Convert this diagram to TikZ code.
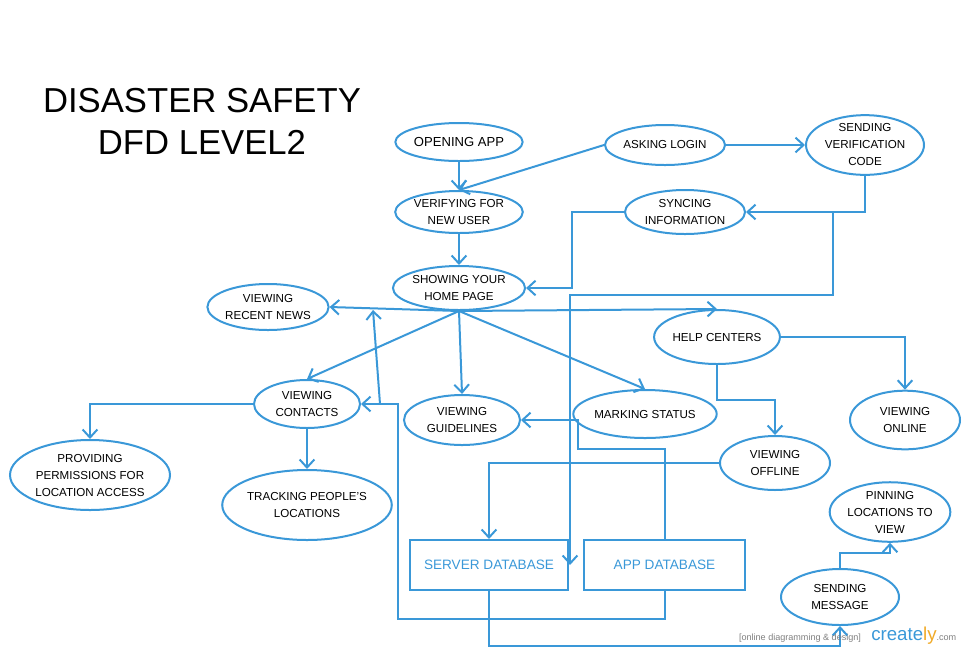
\documentclass[tikz,border=0pt]{standalone}
\usepackage{fontspec}
\setmainfont{Liberation Sans}
\usepackage{xcolor}
\usepackage{tikz}
\usetikzlibrary{shapes.geometric,arrows.meta}
\definecolor{cblue}{RGB}{58,152,216}
\definecolor{corange}{RGB}{240,170,40}
\tikzstyle{arrow} = [cblue, line width=1.5pt, -{Straight Barb[length=6pt,width=11pt]}]
\tikzstyle{proc} = [ellipse, draw=cblue, line width=1.5pt, inner sep=0pt, align=center, font=\fontsize{8.7}{12.75}\selectfont]
\tikzstyle{store} = [rectangle, draw=cblue, line width=1.5pt, text=cblue, inner sep=0pt, font=\fontsize{10.2}{12}\selectfont]

\begin{document}
\begin{tikzpicture}[x=0.75pt, y=-0.75pt, node distance=52.5pt]
		\useasboundingbox (0,0) rectangle (970,654);

		\node (title) [align=center, font=\fontsize{26}{31.5}\selectfont] at (202,121) {DISASTER SAFETY\\DFD LEVEL2};

		\node (open) [proc, minimum width=88.5pt, minimum height=28.5pt, font=\fontsize{9.8}{12}\selectfont] at (459,142) {OPENING APP};
		\node (verify) [proc, below of=open, minimum width=93pt, minimum height=31.5pt] {VERIFYING FOR\\NEW USER};
		\node (home) [proc, below of=verify, yshift=-4.5pt, minimum width=91.5pt, minimum height=33pt] {SHOWING YOUR\\HOME PAGE};
		\node (login) [proc, minimum width=90pt, minimum height=30pt] at (665,145) {ASKING LOGIN};
		\node (sendcode) [proc, minimum width=88.5pt, minimum height=37.5pt] at (865,145) {SENDING\\VERIFICATION\\CODE};
		\node (sync) [proc, minimum width=90pt, minimum height=33pt] at (685,212) {SYNCING\\INFORMATION};
		\node (news) [proc, minimum width=87pt, minimum height=34.5pt] at (268,307) {VIEWING\\RECENT NEWS};
		\node (help) [proc, minimum width=93pt, minimum height=40.5pt] at (717,337) {HELP CENTERS};
		\node (contacts) [proc, minimum width=79.5pt, minimum height=36pt] at (307,404) {VIEWING\\CONTACTS};
		\node (guide) [proc, minimum width=87pt, minimum height=37.5pt] at (462,420) {VIEWING\\GUIDELINES};
		\node (mark) [proc, minimum width=90pt, minimum height=36pt] at (645,414) {MARKING STATUS};
		\node (online) [proc, minimum width=82.5pt, minimum height=44pt] at (905,420) {VIEWING\\ONLINE};
		\node (offline) [proc, minimum width=82.5pt, minimum height=40.5pt] at (775,463) {VIEWING\\OFFLINE};
		\node (perm) [proc, minimum width=120pt, minimum height=52.5pt] at (90,475) {PROVIDING\\PERMISSIONS FOR\\LOCATION ACCESS};
		\node (track) [proc, below of=contacts, yshift=-23.25pt, minimum width=123pt, minimum height=52.5pt] {TRACKING PEOPLE'S\\LOCATIONS};
		\node (server) [store, minimum width=118.5pt, minimum height=37.5pt] at (489,565) {SERVER DATABASE};
		\node (appdb) [store, minimum width=120.75pt, minimum height=37.5pt] at (664.5,565) {APP DATABASE};
		\node (pin) [proc, minimum width=82.5pt, minimum height=42pt] at (890,512) {PINNING\\LOCATIONS TO\\VIEW};
		\node (msg) [proc, minimum width=88.5pt, minimum height=42pt] at (840,597) {SENDING\\MESSAGE};

		\coordinate (split) at (833,212);
		\coordinate (srvin) at (570,565);
		\coordinate (upfoot) at (380,404);
		\coordinate (uptip) at (373,310);

		\draw [arrow] (open) -- (verify);
		\draw [arrow] (login.west) -- (verify.north);
		\draw [arrow] (login) -- (sendcode);
		\draw [arrow] (sendcode.south) |- (sync.east);
		\draw [arrow] (split) -- ++(0,83) -| (srvin);
		\draw [arrow] (sync.west) -- ++(-52,0) |- (home.east);
		\draw [arrow] (verify) -- (home);

		\draw [arrow] (home.south) -- (news.east);
		\draw [arrow] (home.south) -- (help.north);
		\draw [arrow] (home.south) -- (contacts.north);
		\draw [arrow] (home.south) -- (guide.north);
		\draw [arrow] (home.south) -- (mark.north);
		\draw [arrow] (upfoot) -- (uptip);

		\draw [arrow] (contacts.west) -| (perm.north);
		\draw [arrow] (contacts) -- (track);
		\draw [arrow] (help.east) -| (online.north);
		\draw [arrow] (help.south) -- ++(0,35) -| (offline.north);
		\draw [arrow] (offline.west) -| (server.north);
		\draw [arrow] (appdb.north) -- ++(0,-90) -| (578,420) -- (guide.east);
		\draw [arrow] (appdb.south) -- ++(0,28) -| (398,404) -- (contacts.east);
		\draw [arrow] (server.south) -- ++(0,55) -| (msg.south);
		\draw [arrow] (msg.north) -- ++(0,-15) -| (pin.south);

		% watermark
		\node (wmtext) [text=gray, font=\fontsize{6.8}{8}\selectfont] at (800,638) {[online diagramming \& design]};
		\node (wmlogo) [anchor=west, inner sep=0pt, font=\fontsize{14}{16}\selectfont] at (871,636) {\textcolor{cblue}{create}\textcolor{corange}{ly}\textcolor{gray}{\fontsize{6.8}{8}\selectfont.com}};
	\end{tikzpicture}
\end{document}
